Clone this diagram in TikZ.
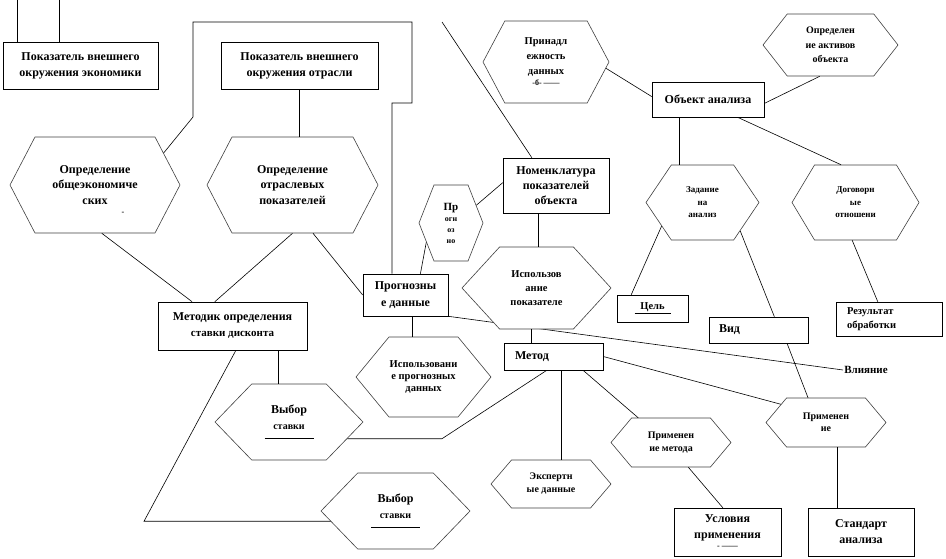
\documentclass[tikz,border=0pt]{standalone}
\usepackage{fontspec}
\setmainfont{Liberation Serif}
\usetikzlibrary{shapes.symbols}
\newcommand{\fs}[2]{\fontsize{#1}{#2}\selectfont\bfseries}

\begin{document}
\begin{tikzpicture}[x=1pt, y=-1pt, line width=0.6pt,
  box node/.style={rectangle, draw, fill=white, inner xsep=2pt, inner ysep=0pt, align=center, font=\fs{12}{16}},
  hex node/.style={signal, signal to=west and east, draw=black!75, fill=white, inner xsep=0pt, inner ysep=0pt, align=center, font=\fs{12}{16}},
  boxdims/.style n args={2}{minimum width=#1, minimum height=#2},
  hexdims/.style n args={3}{minimum width=#1, minimum height=#2, signal pointer angle=#3}]

  \useasboundingbox (0,0) rectangle (946,559);

  % left part
  \node[box node, boxdims={155}{47}] (ekon) at (80.5,65.5) {Показатель внешнего\\окружения экономики};
  \node[box node, boxdims={157}{47}] (otr) at (299.5,65.5) {Показатель внешнего\\окружения отрасли};
  \node[hex node, hexdims={170}{96}{125}, font=\fs{12}{15.5}] (obsh) at (95,185) {Определение\\общеэкономиче\\ских\rlap{\smash{\raisebox{-10pt}{\hspace{14pt}\fs{8}{8}-}}}};
  \node[hex node, hexdims={171}{96}{125}, font=\fs{12}{15.5}] (otrasl) at (292.5,185) {Определение\\отраслевых\\показателей};
  \node[box node, boxdims={149}{48}] (metodika) at (232.5,326) {Методик определения\\{\fs{11}{16}ставки дисконта}};
  \node[box node, boxdims={85}{42}, font=\fs{12}{17}] (prognoz) at (405.5,295) {Прогнозны\\е данные};
  \node[hex node, hexdims={64}{76}{137}, font=\fs{8}{11}] (progno) at (451,223) {{\fs{11}{11}Пр}\\огн\\оз\\но};
  \node[box node, boxdims={106}{55}, font=\fs{12}{15}] (nomen) at (556,185.5) {Номенклатура\\показателей\\объекта};
  \node[hex node, hexdims={135}{80}{101}, font=\fs{10.5}{12}] (ispProg) at (423.5,377) {Использовани\\е прогнозных\\данных};
  \node[hex node, hexdims={148}{76}{92}] (vybor) at (289,422) {Выбор\\{\fs{10}{12}ставки}\\[-7pt]\rule{49pt}{0.6pt}};
  \node[hex node, hexdims={149}{76}{92}] (vyborB) at (395.5,511) {Выбор\\{\fs{10}{12}ставки}\\[-7pt]\rule{49pt}{0.6pt}};

  % middle part
  \node[box node, text width=77, inner xsep=11, minimum height=27, align=left] (metod) at (553.5,356.5) {Метод};
  \node[hex node, hexdims={120}{48}{99}, font=\fs{10}{13}] (ekspert) at (551,484) {Экспертн\\ые данные};
  \node[hex node, hexdims={120}{49}{100}, font=\fs{10}{13}] (primMet) at (671,442.5) {Применен\\ие метода};
  \node[box node, boxdims={107}{48}, font=\fs{12}{16}] (usl) at (727.5,532) {Условия\\применения\\[-6pt]{\fs{8}{8}- ——}};
  \node[anchor=west, inner sep=1pt, font=\fs{11}{12}] (vliyanie) at (843,370) {Влияние};

  % right part
  \node[hex node, hexdims={120}{49}{100}, font=\fs{10}{12}] (prim) at (826,422.5) {Применен\\ие};
  \node[box node, boxdims={106}{48}, font=\fs{12}{16}] (std) at (861,532) {Стандарт\\анализа};
  \node[box node, text width=79, inner xsep=10, minimum height=26, align=left] (vid) at (758.5,330) {Вид};
  \node[box node, boxdims={71}{27}, font=\fs{10.5}{12}] (tsel) at (652.5,308.5) {Цель\\[-8pt]\rule{36pt}{0.6pt}};
  \node[hex node, hexdims={113}{75}{112}, font=\fs{9}{12.5}] (zadanie) at (702.5,202.5) {Задание\\на\\анализ};
  \node[hex node, hexdims={127}{75}{118}, font=\fs{9}{12.5}] (dogovor) at (855.5,202.5) {Договорн\\ые\\отношени};
  \node[box node, text width=84, inner xsep=11, minimum height=34, align=left, font=\fs{10.5}{14}] (rez) at (889,319) {Результат\\обработки};
  \node[box node, boxdims={112}{35}] (obj) at (708,99.5) {Объект анализа};
  \node[hex node, hexdims={135}{62}{104}, font=\fs{10}{14.5}] (aktiv) at (830.5,45) {Определен\\ие активов\\объекта};
  \node[hex node, hexdims={126}{82}{124}, font=\fs{10.5}{15}] (prin) at (546,62) {Принадл\\ежность\\данных\\[-4pt]{\fs{8}{8}-б- ——}};

  % this one runs under the hexagon
  \draw (prognoz.south east) -- (vliyanie.west);
  \node[hex node, hexdims={149}{82}{95}, font=\fs{10.5}{14}] (ispPok) at (536.5,288) {Использов\\ание\\показателе};

  \coordinate (topA) at (17,0);
  \coordinate (topB) at (59,0);
  \coordinate (bendA) at (193,117);
  \coordinate (bendB) at (193,22);
  \coordinate (bendC) at (412,22);
  \coordinate (bendD) at (412,103);
  \coordinate (bendE) at (392,103);
  \coordinate (freeN) at (442,22);
  \coordinate (bendF) at (144,0);
  \coordinate (bendG) at (442,0);

  \draw (topA) -- (topA |- ekon.north);
  \draw (topB) -- (topB |- ekon.north);
  \draw (otr.south) -- (otr.south |- otrasl.north);
  \draw (obsh.25) -- (bendA) -- (bendB) -- (bendC) -- (bendD) -- (bendE) -- (bendE |- prognoz.north);
  \draw (obsh.-82) -- (metodika.149);
  \draw (otrasl.south) -- (metodika.126);
  \draw (otrasl.-67) -- (prognoz.west);
  \draw (prognoz.55) -- (progno.218);
  \draw (progno.35) -- (nomen.177);
  \draw (freeN) -- (nomen.131);
  \draw (nomen.238) -- (nomen.238 |- ispPok.north);
  \draw (prognoz.-73) -- (prognoz.-73 |- ispProg.north);
  \draw (metod.148 |- ispPok.south) -- (metod.148);
  \draw (metodika.-28) -- (metodika.-28 |- vybor.north);
  \draw (metodika.-82) -- (bendF |- vyborB.189) -- (vyborB.189);
  \draw (vybor.-16) -- (bendG |- vybor.-16) -- (metod.244);
  \draw (metod.-61) -- (metod.-61 |- ekspert.north);
  \draw (metod.-25) -- (primMet.143);
  \draw (primMet.-55) -- (usl.101);
  \draw (metod.east) -- (prim.158);
  \draw (prim.-66) -- (prim.-66 |- std.north);
  \draw (vid.-25) -- (prim.126);
  \draw (zadanie.-37) -- (vid.40);
  \draw (zadanie.210) -- (tsel.147);
  \draw (obj.212) -- (obj.212 |- zadanie.north);
  \draw (obj.-31) -- (dogovor.111);
  \draw (dogovor.265) -- (rez.123);
  \draw (obj.-4) -- (aktiv.251);
  \draw (prin.-6) -- (obj.177);
\end{tikzpicture}
\end{document}
